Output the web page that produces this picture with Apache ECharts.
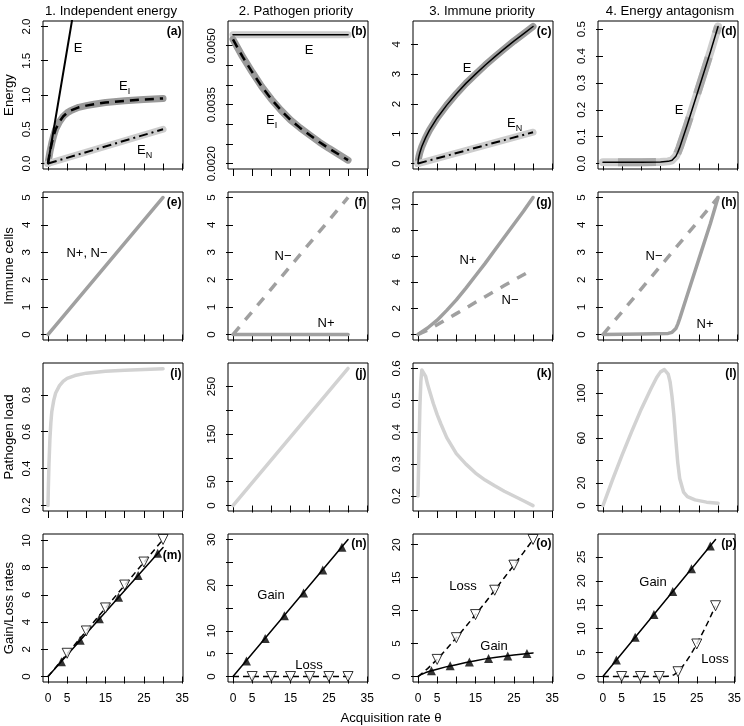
<!DOCTYPE html>
<html><head><meta charset="utf-8">
<script src="https://cdn.jsdelivr.net/npm/echarts@6/dist/echarts.min.js"></script>
<style>html,body{margin:0;padding:0;background:#fff}#c{width:744px;height:726px}</style>
</head><body><div id="c"></div>
<script>
// ---------- DATA ----------
const colTitles = ['1. Independent energy', '2. Pathogen priority', '3. Immune priority', '4. Energy antagonism'];
const rowTitles = ['Energy', 'Immune cells', 'Pathogen load', 'Gain/Loss rates'];
const xTitle = 'Acquisition rate \u03b8';
const panelLetters = ['(a)','(b)','(c)','(d)','(e)','(f)','(g)','(h)','(i)','(j)','(k)','(l)','(m)','(n)','(o)','(p)'];
const xTicks = [0, 5, 10, 15, 20, 25, 30, 35];
const xTickLabels = [0, 5, 15, 25, 35];

// y ticks / labels per panel
const yTicks_a = [0, 0.5, 1, 1.5, 2];            const yLabels_a = [0, 0.5, 1, 1.5, 2];
const yTicks_b = [0.002, 0.0025, 0.003, 0.0035, 0.004, 0.0045, 0.005]; const yLabels_b = [0.002, 0.0035, 0.005];
const yTicks_c = [0, 1, 2, 3, 4];                const yLabels_c = [0, 1, 2, 3, 4];
const yTicks_d = [0, 0.1, 0.2, 0.3, 0.4, 0.5];   const yLabels_d = [0, 0.1, 0.2, 0.3, 0.4, 0.5];
const yTicks_e = [0, 1, 2, 3, 4, 5];             const yLabels_e = [0, 1, 2, 3, 4, 5];
const yTicks_f = [0, 1, 2, 3, 4, 5];             const yLabels_f = [0, 1, 2, 3, 4, 5];
const yTicks_g = [0, 2, 4, 6, 8, 10];            const yLabels_g = [0, 2, 4, 6, 8, 10];
const yTicks_h = [0, 1, 2, 3, 4, 5];             const yLabels_h = [0, 1, 2, 3, 4, 5];
const yTicks_i = [0.2, 0.4, 0.6, 0.8];           const yLabels_i = [0.2, 0.4, 0.6, 0.8];
const yTicks_j = [0, 50, 100, 150, 200, 250];    const yLabels_j = [0, 50, 150, 250];
const yTicks_k = [0.2, 0.3, 0.4, 0.5, 0.6];      const yLabels_k = [0.2, 0.3, 0.4, 0.5, 0.6];
const yTicks_l = [0, 20, 40, 60, 80, 100, 120];  const yLabels_l = [0, 20, 60, 100];
const yTicks_m = [0, 2, 4, 6, 8, 10];            const yLabels_m = [0, 2, 4, 6, 8, 10];
const yTicks_n = [0, 5, 10, 15, 20, 25, 30];     const yLabels_n = [0, 5, 10, 20, 30];
const yTicks_o = [0, 5, 10, 15, 20];             const yLabels_o = [0, 5, 10, 15, 20];
const yTicks_p = [0, 5, 10, 15, 20, 25];         const yLabels_p = [0, 5, 10, 15, 20, 25];

// (a)
const a_thE = [0, 30];  const a_E = [0, 10];
const a_thEI = [0, 0.5, 1, 1.5, 2, 3, 4, 5, 6, 8, 10, 12, 15, 20, 25, 30];
const a_EI = [0, 0.17, 0.3, 0.41, 0.5, 0.61, 0.69, 0.74, 0.775, 0.82, 0.845, 0.865, 0.89, 0.915, 0.935, 0.95];
const a_thEN = [0, 30]; const a_EN = [0, 0.5];
// (b)
const b_thE = [0, 30];  const b_E = [0.00528, 0.00528];
const b_thEI = [0, 2.5, 5, 7.5, 10, 12.5, 15, 17.5, 20, 22.5, 25, 27.5, 30];
const b_EI = [0.00516, 0.00472, 0.00433, 0.00396, 0.00364, 0.00336, 0.00311, 0.00291, 0.00273, 0.00255, 0.00239, 0.00224, 0.00209];
// (c)
const c_thE = [0, 0.1, 0.25, 0.5, 1, 2, 3, 5, 7.5, 10, 12.5, 15, 17.5, 20, 22.5, 25, 27.5, 30];
const c_E = [0, 0.14, 0.24, 0.37, 0.57, 0.87, 1.12, 1.53, 1.96, 2.34, 2.69, 3.0, 3.3, 3.58, 3.85, 4.11, 4.35, 4.6];
const c_thEN = [0, 30]; const c_EN = [0, 1.05];
// (d)
const d_th = [0, 5, 10, 15, 17, 18, 18.5, 19, 19.5, 20, 22, 25, 28, 30];
const d_E = [0.005, 0.005, 0.005, 0.006, 0.008, 0.012, 0.017, 0.027, 0.042, 0.06, 0.145, 0.28, 0.415, 0.51];
// (e)
const e_th = [0, 30]; const e_N = [0, 5];
// (f)
const f_th = [0, 30]; const f_Nminus = [0, 5]; const f_Nplus = [0, 0];
// (g)
const g_th = [0, 2.5, 5, 7.5, 10, 12.5, 15, 17.5, 20, 22.5, 25, 27.5, 30];
const g_Nplus = [0, 0.5, 1.1, 1.85, 2.65, 3.55, 4.5, 5.45, 6.45, 7.45, 8.45, 9.45, 10.5];
const g_Nminus = [0, 0.33, 0.75, 1.18, 1.6, 2.03, 2.47, 2.9, 3.33, 3.75, 4.17, 4.58, 5.0];
// (h)
const h_thM = [0, 30]; const h_Nminus = [0, 5];
const h_thP = [0, 10, 17, 18, 18.5, 19, 19.5, 20, 22, 25, 28, 30];
const h_Nplus = [0, 0.02, 0.04, 0.08, 0.13, 0.22, 0.38, 0.58, 1.45, 2.75, 4.05, 5.0];
// (i)
const i_th = [0, 0.1, 0.25, 0.5, 0.75, 1, 1.5, 2, 3, 4, 5, 7, 10, 15, 20, 25, 30];
const i_P = [0.2, 0.3, 0.42, 0.56, 0.65, 0.71, 0.77, 0.81, 0.85, 0.875, 0.89, 0.905, 0.918, 0.928, 0.934, 0.938, 0.942];
// (j)
const j_th = [0, 30]; const j_P = [0, 288];
// (k)
const k_th = [0, 0.25, 0.5, 0.75, 1, 1.25, 1.5, 2, 2.5, 3, 4, 5, 6, 7.5, 10, 12.5, 15, 17.5, 20, 22.5, 25, 27.5, 30];
const k_P = [0.2, 0.35, 0.48, 0.56, 0.595, 0.6, 0.595, 0.575, 0.55, 0.53, 0.49, 0.455, 0.425, 0.383, 0.333, 0.3, 0.272, 0.25, 0.232, 0.215, 0.2, 0.185, 0.17];
// (l)
const l_th = [0, 2.5, 5, 7.5, 10, 12.5, 14, 15, 16, 17, 17.5, 18, 18.5, 19, 19.5, 20, 21, 22, 24, 27, 30];
const l_P = [0, 23, 45, 66, 86, 104, 114, 119, 121, 117, 110, 97, 80, 58, 38, 24, 12, 8, 5, 3, 2];
// (m)
const m_thLine = [0, 30]; const m_gainLine = [0, 9.47]; const m_lossLine = [0, 10.07];
const m_thGainMk = [3.5, 8.4, 13.4, 18.4, 23.5, 28.6]; const m_gainMk = [1.08, 2.66, 4.25, 5.82, 7.43, 9.05];
const m_thLossMk = [5, 10, 15, 20, 25, 30];          const m_lossMk = [1.71, 3.35, 5.04, 6.72, 8.41, 10.07];
// (n)
const n_thLine = [0, 30]; const n_gainLine = [0, 30]; const n_lossLine = [0, 0];
const n_thGainMk = [3.5, 8.4, 13.4, 18.4, 23.4, 28.4]; const n_gainMk = [3.4, 8.3, 13.3, 18.3, 23.3, 28.3];
const n_thLossMk = [5, 10, 15, 20, 25, 30];          const n_lossMk = [0, 0, 0, 0, 0, 0];
// (o)
const o_th = [0, 1, 2, 3.5, 5, 7.5, 10, 12.5, 15, 17.5, 20, 22.5, 25, 27.5, 30];
const o_gain = [0, 0.35, 0.6, 0.88, 1.1, 1.5, 1.8, 2.12, 2.4, 2.68, 2.9, 3.08, 3.25, 3.42, 3.58];
const o_thLoss = [0, 2.5, 5, 7.5, 10, 12.5, 15, 17.5, 20, 22.5, 25, 27.5, 30];
const o_loss = [0, 1.2, 2.6, 4.2, 5.9, 7.6, 9.4, 11.2, 13.1, 15.0, 16.9, 18.8, 20.8];
const o_thGainMk = [3.5, 8.4, 13.4, 18.4, 23.4, 28.4]; const o_gainMk = [0.88, 1.65, 2.22, 2.75, 3.12, 3.48];
const o_thLossMk = [5, 10, 15, 20, 25, 30];          const o_lossMk = [2.6, 5.9, 9.4, 13.1, 16.9, 20.8];
// (p)
const p_thGain = [0, 30]; const p_gain = [0, 28.65];
const p_thLoss = [0, 5, 10, 15, 18, 19, 20, 21, 22, 23, 24, 25, 26, 27, 28, 29, 30];
const p_loss = [0, 0, 0, 0, 0.05, 0.4, 1.0, 1.9, 2.9, 4.1, 5.4, 6.8, 8.3, 9.8, 11.4, 13.1, 14.8];
const p_thGainMk = [3.6, 8.6, 13.6, 18.6, 23.6, 28.6]; const p_gainMk = [3.44, 8.21, 12.99, 17.76, 22.54, 27.31];
const p_thLossMk = [5, 10, 15, 20, 25, 30];          const p_lossMk = [0, 0, 0, 1.0, 6.8, 14.8];

// ---------- LAYOUT ----------
const FONT = "'Liberation Sans', Arial, Helvetica, sans-serif";
const cols = [43, 228, 413, 598], rows = [21, 192, 363, 534], W = 140, H = 148;
const yCfg = [
  {min: -0.08, max: 2.08, t: yTicks_a, l: yLabels_a, d: 1},
  {min: 0.001865, max: 0.005628, t: yTicks_b, l: yLabels_b, d: 4},
  {min: -0.184, max: 4.784, t: yTicks_c, l: yLabels_c, d: 0},
  {min: -0.0204, max: 0.5304, t: yTicks_d, l: yLabels_d, d: 1},
  {min: -0.2, max: 5.2, t: yTicks_e, l: yLabels_e, d: 0},
  {min: -0.2, max: 5.2, t: yTicks_f, l: yLabels_f, d: 0},
  {min: -0.42, max: 10.92, t: yTicks_g, l: yLabels_g, d: 0},
  {min: -0.2, max: 5.2, t: yTicks_h, l: yLabels_h, d: 0},
  {min: 0.170, max: 0.973, t: yTicks_i, l: yLabels_i, d: 1},
  {min: -11.5, max: 299.5, t: yTicks_j, l: yLabels_j, d: 0},
  {min: 0.153, max: 0.617, t: yTicks_k, l: yLabels_k, d: 1},
  {min: -4.88, max: 126.9, t: yTicks_l, l: yLabels_l, d: 0},
  {min: -0.4, max: 10.47, t: yTicks_m, l: yLabels_m, d: 0},
  {min: -1.2, max: 31.2, t: yTicks_n, l: yLabels_n, d: 0},
  {min: -0.83, max: 21.63, t: yTicks_o, l: yLabels_o, d: 0},
  {min: -1.15, max: 29.8, t: yTicks_p, l: yLabels_p, d: 0}
];

const grids = [], xAxes = [], yAxes = [];
for (let r = 0; r < 4; r++) for (let c = 0; c < 4; c++) {
  const i = r * 4 + c;
  grids.push({left: cols[c], top: rows[r], width: W, height: H, show: true, borderColor: '#000', borderWidth: 1, backgroundColor: 'transparent'});
  xAxes.push({type: 'value', gridIndex: i, min: -1.3, max: 35.2,
    splitLine: {show: false}, axisLine: {show: false},
    axisTick: {show: true, length: 7, customValues: xTicks, lineStyle: {color: '#000', width: 1}},
    axisLabel: {show: r === 3, customValues: xTickLabels, fontSize: 12, color: '#000', fontFamily: FONT, margin: 11}});
  const y = yCfg[i];
  yAxes.push({type: 'value', gridIndex: i, min: y.min, max: y.max,
    splitLine: {show: false}, axisLine: {show: false},
    axisTick: {show: true, length: 7, customValues: y.t, lineStyle: {color: '#000', width: 1}},
    axisLabel: {show: true, customValues: y.l, rotate: 90, fontSize: 11.5, color: '#000', fontFamily: FONT, margin: 10,
      formatter: (v) => Number(v).toFixed(y.d)}});
}

function P(xs, ys) { return xs.map((x, k) => [x, ys[k]]); }
function L(i, xs, ys, color, width, type, z, cap, offset) {
  return {type: 'line', xAxisIndex: i, yAxisIndex: i, data: P(xs, ys), showSymbol: false, symbol: 'none',
    lineStyle: {color: color, width: width, type: type || 'solid', cap: cap || 'round', join: 'round', dashOffset: offset || 0},
    z: z || 2, silent: true, animation: false, clip: true};
}
function M(i, xs, ys, open) {
  return {type: 'scatter', xAxisIndex: i, yAxisIndex: i, data: P(xs, ys), symbol: 'triangle',
    symbolSize: open ? 10 : 9, symbolRotate: open ? 180 : 0,
    itemStyle: open ? {color: '#fff', borderColor: '#000', borderWidth: 1} : {color: '#000'},
    z: 5, silent: true, animation: false};
}
const DG = '#9a9a9a', LG = '#cdcdcd', R2 = '#a0a0a0', R3 = '#d2d2d2';
const DASH = [9, 6], DASHDOT = [9, 4, 2, 4], NDASH = [10, 9], LDASH = [6, 4];

const series = [
  // a
  L(0, a_thEI, a_EI, DG, 7, 'solid', 1), L(0, a_thEI, a_EI, '#000', 2.5, DASH, 3, 'butt'),
  L(0, a_thEN, a_EN, LG, 7, 'solid', 1), L(0, a_thEN, a_EN, '#000', 2, DASHDOT, 3, 'butt'),
  L(0, a_thE, a_E, '#000', 2, 'solid', 3),
  // b
  L(1, b_thE, b_E, LG, 7, 'solid', 1), L(1, b_thE, b_E, '#000', 1.5, 'solid', 3),
  L(1, b_thEI, b_EI, DG, 7, 'solid', 1), L(1, b_thEI, b_EI, '#000', 2.5, DASH, 3, 'butt'),
  // c
  L(2, c_thE, c_E, DG, 7, 'solid', 1), L(2, c_thE, c_E, '#000', 1.5, 'solid', 3),
  L(2, c_thEN, c_EN, LG, 7, 'solid', 1), L(2, c_thEN, c_EN, '#000', 2, DASHDOT, 3, 'butt'),
  // d
  L(3, d_th, d_E, LG, 8, 'solid', 1), L(3, d_th, d_E, '#aaaaaa', 8, [38, 25], 2, 'butt', 48),
  L(3, d_th, d_E, '#000', 1.5, 'solid', 3),
  // e-h
  L(4, e_th, e_N, R2, 3.5),
  L(5, f_th, f_Nminus, R2, 3.5, NDASH, 2, 'butt'), L(5, f_th, f_Nplus, R2, 3.5),
  L(6, g_th, g_Nplus, R2, 3.5), L(6, g_th, g_Nminus, R2, 3.5, NDASH, 2, 'butt'),
  L(7, h_thM, h_Nminus, R2, 3.5, NDASH, 2, 'butt'), L(7, h_thP, h_Nplus, R2, 3.5),
  // i-l
  L(8, i_th, i_P, R3, 3.5), L(9, j_th, j_P, R3, 3.5), L(10, k_th, k_P, R3, 3.5), L(11, l_th, l_P, R3, 3.5),
  // m
  L(12, m_thLine, m_gainLine, '#000', 1.5), L(12, m_thLine, m_lossLine, '#000', 1.5, LDASH, 2, 'butt'),
  M(12, m_thGainMk, m_gainMk, false), M(12, m_thLossMk, m_lossMk, true),
  // n
  L(13, n_thLine, n_gainLine, '#000', 1.5), L(13, n_thLine, n_lossLine, '#000', 1.5, LDASH, 2, 'butt'),
  M(13, n_thGainMk, n_gainMk, false), M(13, n_thLossMk, n_lossMk, true),
  // o
  L(14, o_th, o_gain, '#000', 1.5), L(14, o_thLoss, o_loss, '#000', 1.5, LDASH, 2, 'butt'),
  M(14, o_thGainMk, o_gainMk, false), M(14, o_thLossMk, o_lossMk, true),
  // p
  L(15, p_thGain, p_gain, '#000', 1.5), L(15, p_thLoss, p_loss, '#000', 1.5, LDASH, 2, 'butt'),
  M(15, p_thGainMk, p_gainMk, false), M(15, p_thLossMk, p_lossMk, true)
];

// ---------- TEXT ----------
function T(text, x, y, size, opts) {
  opts = opts || {};
  return {type: 'text', x: x, y: y, rotation: opts.rot || 0, z: 10, silent: true,
    style: {text: text, fontSize: size, fontFamily: FONT, fontWeight: opts.bold ? 'bold' : 'normal', fill: '#000',
      align: opts.align || 'center', verticalAlign: 'middle', rich: opts.rich}};
}
const subRich = {m: {fontSize: 13, fontFamily: FONT, lineHeight: 20, verticalAlign: 'middle'},
                 s: {fontSize: 9, fontFamily: FONT, lineHeight: 20, verticalAlign: 'bottom'}};
const graphics = [];
const titleX = [111, 296, 482, 670];
colTitles.forEach((t, k) => graphics.push(T(t, titleX[k], 11, 13.2)));
const rowMid = [95, 266, 437, 608];
rowTitles.forEach((t, k) => graphics.push(T(t, 9, rowMid[k], 13.2, {rot: Math.PI / 2})));
graphics.push(T(xTitle, 391, 718, 13.2));
panelLetters.forEach((t, i) => {
  const r = Math.floor(i / 4), c = i % 4;
  let y = rows[r] + 11; if (r === 3) y = (c === 0) ? rows[r] + 22 : rows[r] + 10;
  graphics.push(T(t, cols[c] + W - 1.5, y, 12, {bold: true, align: 'right'}));
});
const ann = [
  ['E', 78, 48], ['N+, N\u2212', 87, 253], ['N\u2212', 283, 256], ['N+', 326, 323],
  ['N+', 468, 260], ['N\u2212', 510, 300], ['N\u2212', 654, 256], ['N+', 705, 324],
  ['E', 309, 50], ['E', 467, 68], ['E', 679, 110],
  ['Gain', 271, 595], ['Loss', 309, 665], ['Loss', 463, 586], ['Gain', 494, 646], ['Gain', 653, 582], ['Loss', 715, 659]
];
ann.forEach(a => graphics.push(T(a[0], a[1], a[2], 13)));
const subAnn = [['I', 119, 86], ['N', 137, 150], ['I', 266, 120], ['N', 507, 123]];
subAnn.forEach(a => graphics.push(T('{m|E}{s|' + a[0] + '}', a[1], a[2], 13, {align: 'left', rich: subRich})));

const chart = echarts.init(document.getElementById('c'), null, {renderer: 'canvas'});
chart.setOption({
  animation: false, backgroundColor: '#fff',
  grid: grids, xAxis: xAxes, yAxis: yAxes, series: series, graphic: graphics
});
</script></body></html>
